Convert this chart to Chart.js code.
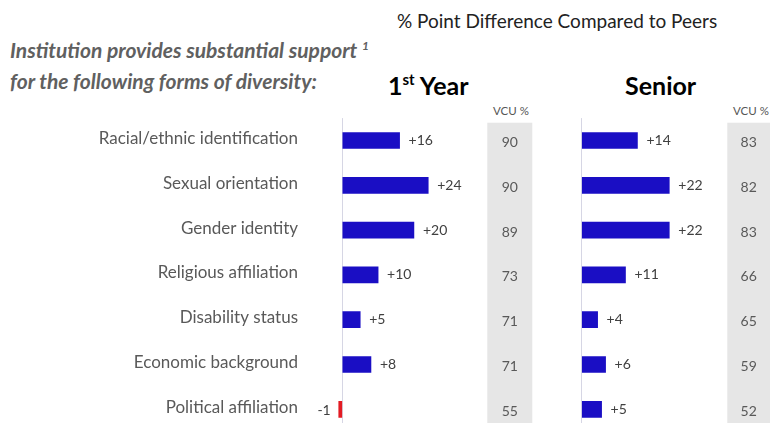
<!DOCTYPE html>
<html><head><meta charset="utf-8">
<script src="https://cdn.jsdelivr.net/npm/chart.js@4"></script>
<style>
html,body{margin:0;padding:0;background:#fff;width:770px;height:423px;overflow:hidden;font-family:Lato,sans-serif}
.t{position:absolute;white-space:nowrap}
</style></head><body>
<div class="t" style="left:397px;top:9px;font-size:19px;color:#222">% Point Difference Compared to Peers</div>
<div class="t" style="left:10px;top:36px;font-size:21px;font-weight:bold;font-style:italic;color:#606060;line-height:27px">Institution provides substantial support <span style="font-size:12px;position:relative;top:-8px">1</span><br>for the following forms of diversity:</div>
<div class="t" style="left:388px;top:70px;font-size:25px;font-weight:bold;color:#000">1<span style="font-size:15px;position:relative;top:-10px">st</span> Year</div>
<div class="t" style="left:625px;top:70px;font-size:25px;font-weight:bold;color:#000">Senior</div>
<div class="t" style="left:493px;top:104px;font-size:11.5px;color:#555">VCU %</div>
<div class="t" style="left:733px;top:104px;font-size:11.5px;color:#555">VCU %</div>
<canvas id="c1" width="544" height="432" style="position:absolute;left:0;top:0"></canvas>
<canvas id="c2" width="210" height="432" style="position:absolute;left:560px;top:0"></canvas>
<script>
const categories = ["Racial/ethnic identification","Sexual orientation","Gender identity","Religious affiliation","Disability status","Economic background","Political affiliation"];
const firstYearDiff = [16,24,20,10,5,8,-1];
const seniorDiff = [14,22,22,11,4,6,5];
const firstYearVCU = [90,90,89,73,71,71,55];
const seniorVCU = [83,82,83,66,65,59,52];

const BLUE = '#1a0ec4', RED = '#e31b23', LABEL = '#595959';

const vcuPlugin = {
  id: 'vcu',
  beforeDatasetsDraw(chart, args, opts) {
    const ctx = chart.ctx, ys = chart.scales.y;
    ctx.save();
    ctx.fillStyle = '#e6e6e6';
    ctx.fillRect(opts.x0, 122.7, opts.x1 - opts.x0, chart.height);
    ctx.fillStyle = LABEL;
    ctx.font = '14px Lato';
    ctx.textAlign = 'center';
    ctx.textBaseline = 'middle';
    opts.values.forEach((v, i) => ctx.fillText(String(v), (opts.x0 + opts.x1) / 2, ys.getPixelForValue(i) + 2));
    if (opts.showCategories) {
      ctx.font = '17px Lato';
      ctx.textAlign = 'right';
      chart.data.labels.forEach((lab, i) => ctx.fillText(lab, opts.catRight, ys.getPixelForValue(i) - 2));
    }
    ctx.restore();
  }
};
const labelPlugin = {
  id: 'barLabels',
  afterDatasetsDraw(chart) {
    const ctx = chart.ctx, meta = chart.getDatasetMeta(0), data = chart.data.datasets[0].data;
    ctx.save();
    ctx.fillStyle = '#404040';
    ctx.font = '14px Lato';
    ctx.textBaseline = 'middle';
    meta.data.forEach((bar, i) => {
      const v = data[i];
      if (v >= 0) { ctx.textAlign = 'left'; ctx.fillText('+' + v, bar.x + 9, bar.y); }
      else { ctx.textAlign = 'right'; ctx.fillText(String(v), bar.x - 8, bar.y + 1); }
    });
    ctx.restore();
  }
};

function makeChart(id, data, vcu, opts) {
  return new Chart(document.getElementById(id), {
    type: 'bar',
    data: { labels: categories, datasets: [{ data, backgroundColor: c => c.raw < 0 ? RED : BLUE, barThickness: 16, borderWidth: 0 }] },
    options: {
      indexAxis: 'y', responsive: false, animation: false, devicePixelRatio: 1,
      layout: { padding: { top: 118.1, bottom: 0.3, left: opts.padLeft, right: 0 } },
      plugins: { legend: { display: false }, tooltip: { enabled: false },
                 vcu: { values: vcu, x0: opts.x0, x1: opts.x1, showCategories: opts.showCats, catRight: 298 } },
      scales: {
        x: { min: opts.min, max: opts.max, ticks: { display: false, stepSize: 1 }, border: { display: false },
             grid: { drawTicks: false, lineWidth: 1, color: c => c.tick && c.tick.value === 0 ? '#d6d6e4' : 'rgba(0,0,0,0)' } },
        y: { display: false }
      }
    },
    plugins: [vcuPlugin, labelPlugin]
  });
}

makeChart('c1', firstYearDiff, firstYearVCU, { min: -4, max: 56.34, padLeft: 328, showCats: true, x0: 487.3, x1: 532.3 });
makeChart('c2', seniorDiff, seniorVCU, { min: 0, max: 47.3, padLeft: 21.7, showCats: false, x0: 167.3, x1: 210 });
</script>
</body></html>
